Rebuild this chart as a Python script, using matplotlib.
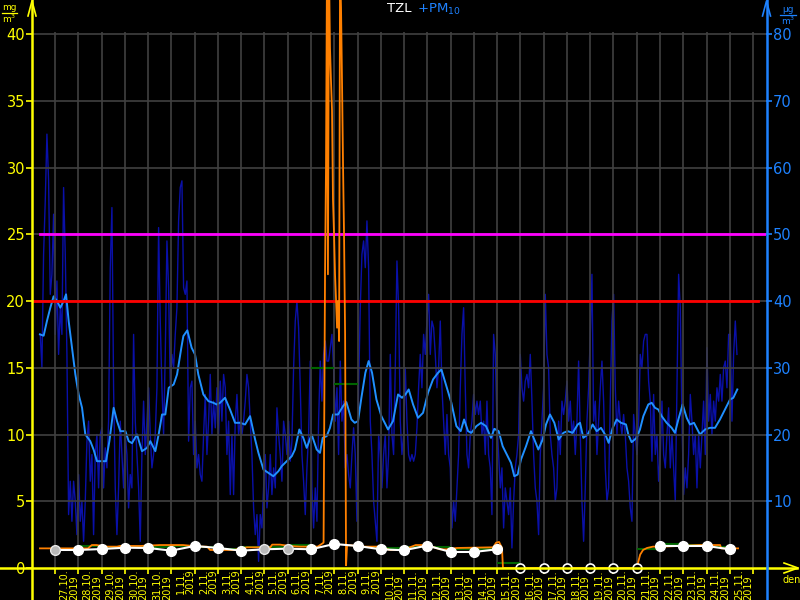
import matplotlib
matplotlib.use('Agg')
import matplotlib.pyplot as plt
from matplotlib.lines import Line2D
import numpy as np

# ---------------- data ----------------
day_labels = ['27.10.', '28.10.', '29.10.', '30.10.', '31.10.', '1.11.', '2.11.', '3.11.',
              '4.11.', '5.11.', '6.11.', '7.11.', '8.11.', '9.11.', '10.11.', '11.11.',
              '12.11.', '13.11.', '14.11.', '15.11.', '16.11.', '17.11.', '18.11.', '19.11.',
              '20.11.', '21.11.', '22.11.', '23.11.', '24.11.', '25.11.']
year_label = '2019'

# PM10 raw readings (ug/m3), regular sampling
pm10_start_h = -15.2
pm10_step_h = 1.719
pm10_raw = [
    35, 30, 47, 55, 65, 58, 41, 44, 53, 35, 43, 32, 39, 35, 57, 47, 32, 8, 13, 7, 13, 10, 5, 14, 7,
    10, 4, 10, 19, 22, 13, 17, 5, 17, 20, 12, 20, 21, 12, 18, 15, 22, 45, 54, 27, 12, 5, 12, 22, 17,
    12, 20, 17, 9, 14, 12, 35, 22, 17, 12, 4, 17, 25, 17, 22, 27, 20, 15, 17, 20, 27, 51, 37, 27, 20,
    32, 49, 42, 27, 32, 30, 35, 39, 52, 57,
    58, 42, 41, 43, 19, 27, 28, 17, 22, 15, 17, 14, 13, 20, 26, 17, 22, 29, 20, 25, 21, 27, 20, 28, 22,
    29, 27, 17, 22, 11, 20, 11, 22, 26, 20, 22, 20, 22, 25, 29, 27, 22, 17, 9, 5, 8, 1, 8, 6, 12,
    17, 9, 12, 17, 11, 15, 12, 24, 20, 17, 13, 22, 20, 17, 22, 16, 19, 30, 37, 40, 36, 27, 17, 13, 8,
    15, 20, 31, 12, 6, 12, 7, 22, 31, 25, 32, 34, 31, 31,
    33, 35, 30, 22, 27, 17, 31, 22, 25, 15, 17, 14, 12, 17, 21, 17, 7, 27, 39, 47, 49, 45, 52, 45, 22,
    17, 10, 7, 4, 20, 17, 12, 17, 20, 12, 17, 32, 20, 17, 30, 46, 39, 22, 17, 20, 30, 22, 17, 16, 17,
    16, 17, 21, 27, 32, 27, 35, 32, 37, 41, 32, 37, 36, 32, 27, 30, 37, 27, 22, 17, 23, 17, 15, 6, 10,
    7, 12, 17, 27, 35, 39, 27, 17, 15, 20, 22, 26, 23, 25,
    23, 25, 20, 22, 17, 25, 17, 15, 8, 35, 32, 22, 17, 12, 15, 6, 12, 10, 8, 12, 3, 10, 15, 17, 20,
    32, 27, 25, 28, 29, 27, 32, 25, 17, 12, 10, 5, 17, 22, 27, 41, 32, 30, 20, 17, 15, 10, 12, 22, 17,
    25, 23, 25, 28, 22, 25, 20, 22, 17, 22, 31, 20, 10, 4, 12, 22, 27, 35, 44, 22, 25, 17, 22, 27, 31,
    25, 15, 10, 12, 25, 37, 41, 27, 20, 25, 22, 20, 23, 20,
    15, 13, 9, 7, 23, 20, 17, 22, 32, 30, 34, 35, 35, 28, 25, 16, 26, 17, 20, 13, 17, 25, 17, 15, 20,
    24, 15, 20, 15, 10, 27, 44, 39, 22, 11, 15, 12, 17, 26, 22, 17, 20, 12, 20, 15, 20, 25, 17, 33, 22,
    26, 20, 25, 22, 27, 25, 29, 25, 30, 31, 27, 35, 35, 22, 32, 37, 32]

# PM10 moving average (ug/m3)
pm10_avg_h = [
    -15.5, -11.7, -8.3, -4.8, -1.4, 2.1, 5.5, 8.9, 11.4, 14.1, 17.5, 21.0, 24.4, 27.9, 31.3, 36.4,
    39.9, 43.3, 48.5, 52.6, 56.1, 60.5, 64.0, 67.4, 72.6, 76.0, 79.4, 84.6, 89.7, 94.9, 98.3, 103.5,
    106.9, 110.4, 113.8, 117.3, 122.4, 125.9, 130.3,
    132.4, 136.5, 140.9, 144.4, 147.8, 153.0, 158.2, 163.3, 166.8, 170.2, 175.4, 180.5, 185.7, 190.9,
    196.0, 201.2, 206.4, 209.8, 215.0, 220.2, 225.2, 230.4, 233.8, 239.0, 244.2, 247.5, 252.0, 256.1,
    259.6, 264.7, 269.9, 273.3, 276.1, 280.2, 283.6,
    286.8, 291.9, 297.1, 300.5, 305.7, 309.1, 312.5, 316.0, 320.1, 323.5, 327.0, 331.5, 336.6, 340.0,
    343.5, 348.6, 353.8, 357.9, 361.4, 364.8, 369.3, 374.4, 379.6, 384.7, 389.9, 395.1, 398.5, 403.6,
    408.8, 414.0, 418.4, 421.9, 426.0, 429.4, 434.6,
    439.4, 444.5, 449.7, 453.1, 457.6, 461.7, 466.9, 470.3, 473.7, 477.2, 480.6, 485.8, 490.9, 494.4,
    498.5, 503.0, 506.4, 510.5, 515.0, 519.5, 524.3, 528.7, 533.9, 539.1, 541.5, 544.9, 549.4, 554.5,
    558.7, 563.1, 568.3, 571.0, 575.2, 579.3, 583.8, 588.9,
    591.3, 594.7, 599.9, 603.3, 606.8, 611.9, 615.4, 618.8, 622.2, 625.7, 630.8, 636.0, 639.4, 642.9,
    647.3, 651.5, 654.9, 659.0, 665.2, 670.4, 675.5, 680.7, 685.8, 691.0, 696.2, 699.6, 703.7]
pm10_avg = [
    35, 34.8, 37, 39, 40.7, 40, 39, 40, 41, 37, 33, 29, 26, 24, 20, 19, 17.7, 16, 16, 16, 19, 24, 22,
    20.5, 20.5, 19, 18.7, 20, 17.5, 18, 19, 17.5, 20, 23, 23, 27, 27.5, 29, 33,
    34.75, 35.6, 33, 32, 29, 26, 25, 24.75, 24.5, 24.75, 25.5, 23.75, 21.75, 21.75, 21.5, 22.75, 19.25,
    17.25, 14.75, 14.25, 13.75, 14.5, 15.25, 16, 16.75, 17.75, 20.75, 19.5, 18, 20, 17.75, 17.25, 19.5,
    19.75, 21,
    23, 23, 24.25, 24.85, 22.25, 21.75, 22, 25.5, 29.25, 31, 29.25, 25.25, 22.75, 21.75, 20.75, 22, 26,
    25.5, 26, 26.75, 24.5, 22.5, 23.25, 26.25, 28.25, 29.25, 29.75, 27.25, 24.75, 21.25, 20.5, 22.25,
    20.5, 20.25, 21.25,
    21.75, 21.25, 19.5, 20.85, 20.5, 18.25, 16.75, 15.75, 13.75, 14, 16.25, 18.25, 20.5, 19.25, 17.75,
    19.25, 21.5, 23, 21.75, 19.25, 20.25, 20.5, 20.25, 21.5, 21.75, 19.5, 20, 21.5, 20.5, 21, 19.75,
    18.75, 21, 22.25, 21.75, 21.5,
    20, 18.85, 19.5, 20.75, 22.75, 24.5, 24.75, 24, 23.75, 22.75, 21.75, 21, 20.25, 22.25, 24.5, 22.5,
    21.5, 21.75, 20, 20.75, 21, 21, 22.25, 23.75, 25.25, 25.5, 26.75]

# TZL (mg/m3)
tzl_h = [-15.5, 0, 23.7, 34, 38, 43, 52, 64, 67, 88, 108, 132, 150, 157, 160, 184, 198, 222, 224,
         232, 242, 253, 271, 275, 277,
         278.5, 279.5, 280.5, 281.5, 282.6, 283.6, 284.6, 285.7, 286.7, 287.8, 288.8, 289.9, 290.9,
         291.9, 293.0, 294.0, 295.0, 296.1, 297.1, 298.1, 299.2, 300.2, 301.2,
         306, 312.5, 325, 335, 345.5, 359, 372, 383.7, 397, 404, 414.6, 452, 455, 458, 461, 462,
         600.3, 601, 603.5, 606.5, 610.6, 616.8, 627, 665, 686, 687, 704.5]
tzl = [1.47, 1.47, 1.47, 1.47, 1.72, 1.72, 1.6, 1.6, 1.65, 1.65, 1.72, 1.72, 1.6, 1.6, 1.35, 1.35,
       1.55, 1.55, 1.75, 1.75, 1.65, 1.6, 1.6, 1.8, 1.9,
       22, 30, 45, 22, 45, 39, 36.6, 34.3, 27.6, 25, 22, 20, 18, 20, 17, 45, 42, 36, 30, 25, 17.5,
       0.2, 1.7,
       1.7, 1.6, 1.6, 1.6, 1.35, 1.35, 1.72, 1.72, 1.4, 1.4, 1.5, 1.55, 1.9, 1.95, 1.5, 0.0,
       0.0, 0.3, 1.0, 1.35, 1.5, 1.6, 1.6, 1.72, 1.72, 1.47, 1.47]

# TZL daily mean (step per day)
tzl_day_mean = [1.42, 1.65, 1.6, 1.6, 1.6, 1.65, 1.6, 1.4, 1.55, 1.6, 1.7, 15.0, 13.8, 1.55, 1.5,
                1.55, 1.6, 1.45, 1.45, 0.4, 0, 0, 0, 0, 0, 1.4, 1.8, 1.75, 1.55]

# TZL daily value markers
tzl_daily = [1.35, 1.35, 1.42, 1.52, 1.5, 1.3, 1.65, 1.5, 1.3, 1.4, 1.45, 1.4, 1.8, 1.65, 1.4,
             1.33, 1.68, 1.2, 1.2, 1.4, 0, 0, 0, 0, 0, 0, 1.65, 1.65, 1.65, 1.4]
tzl_daily_status = ['p', 'o', 'o', 'o', 'o', 'o', 'o', 'o', 'o', 'p', 'p', 'o', 'o', 'o', 'o',
                    'o', 'o', 'o', 'o', 'o', 'n', 'n', 'n', 'n', 'n', 'n', 'o', 'o', 'o', 'o']

limit_tzl = 25
limit_pm10 = 40

# ---------------- figure ----------------
W, H = 800, 600
fig = plt.figure(figsize=(8, 6), dpi=100, facecolor='black')
L, R, B, T = 32, 766, 568, 32
ax = fig.add_axes([L / W, 1 - B / H, (R - L) / W, (B - T) / H])
ax.set_facecolor('black')
ax2 = ax.twinx()

YEL = '#ffff00'
BLU = '#1e82ff'
GRID = '#404040'

ax.set_xlim(-0.988, 30.554)
ax.set_ylim(0, 40.15)
ax2.set_ylim(0, 80.3)

for s in list(ax.spines.values()) + list(ax2.spines.values()):
    s.set_visible(False)

# grid
for v in range(5, 41, 5):
    ax.axhline(v, color=GRID, lw=1.2, zorder=0)
for d in range(0, 31):
    ax.axvline(d, color=GRID, lw=1.2, zorder=0)

# ticks
ax.set_yticks(range(0, 41, 5))
ax.tick_params(axis='y', colors=YEL, length=4, width=1.2, labelsize=10.5, pad=1)
ax2.set_yticks(range(10, 81, 10))
ax2.tick_params(axis='y', colors=BLU, length=4, width=1.2, labelsize=10.5, pad=1)
ax.set_xticks(range(0, 31))
ax.set_xticks([d + 0.6 for d in range(len(day_labels))], minor=True)
ax.set_xticklabels([])
ax.set_xticklabels([f'{lab}\n{year_label}' for lab in day_labels], minor=True,
                   rotation=90, fontsize=7, color=YEL, va='top', ha='center',
                   multialignment='left', linespacing=0.95)
ax.tick_params(axis='x', which='major', colors=YEL, length=4, width=1.2)
ax.tick_params(axis='x', which='minor', length=0, pad=1, colors=YEL)

# PM10 series on right axis
days_raw = [(pm10_start_h + i * pm10_step_h) / 24 for i in range(len(pm10_raw))]
ax2.plot(days_raw, pm10_raw, color='#0a10a8', lw=1.0, zorder=2)
ax2.plot([h / 24 for h in pm10_avg_h], pm10_avg, color='#2090ff', lw=1.4, zorder=3)

# limits
ax.axhline(limit_pm10 / 2, xmin=0, xmax=0.989, color='#ff0000', lw=2, zorder=4)
ax.axhline(limit_tzl, xmin=0.011, xmax=1, color='#ff00ff', lw=2, zorder=4)

# TZL
ax.set_zorder(ax2.get_zorder() + 1)
ax.patch.set_visible(False)
ax2.set_facecolor('black')
ax.hlines(tzl_day_mean, np.arange(len(tzl_day_mean)), np.arange(len(tzl_day_mean)) + 1,
          color='#006400', lw=1.5, zorder=5)
ax.plot([h / 24 for h in tzl_h], tzl, color='#ff8000', lw=1.3, zorder=6, clip_on=False)

days_d = np.arange(len(tzl_daily))
seg1 = [i for i in days_d if i <= 19]
seg2 = [i for i in days_d if i >= 26]
for seg in (seg1, seg2):
    ax.plot(seg, [tzl_daily[i] for i in seg], color='white', lw=1.5, zorder=7)
for i in days_d:
    st = tzl_daily_status[i]
    if st == 'o':
        ax.plot(i, tzl_daily[i], 'o', ms=7, color='white', mec='white', zorder=8, clip_on=False)
    elif st == 'p':
        ax.plot(i, tzl_daily[i], 'o', ms=7, color='#b8b8b8', mec='#e8e8e8', zorder=8, clip_on=False)
    else:
        ax.plot(i, tzl_daily[i], 'o', ms=6.5, mfc='black', mec='white', mew=1.2, zorder=8,
                clip_on=False)

# axis lines, arrows (figure pixel coordinates)
def fl(xs, ys, c, lw=1.5):
    fig.add_artist(Line2D([x / W for x in xs], [1 - y / H for y in ys], color=c, lw=lw))

fl([32, 32], [0, 600], YEL, 1.8)
fl([28, 32, 36], [16, 1, 16], YEL, 1.2)
fl([0, 797], [568, 568], YEL, 1.8)
fl([784, 798, 784], [563, 568, 573], YEL, 1.2)
fl([766.5, 766.5], [0, 600], BLU, 1.8)
fl([762.5, 766.5, 770.5], [16, 1, 16], BLU, 1.2)

# units
fig.text(9.5 / W, 1 - 7 / H, 'mg', color=YEL, fontsize=6.5, ha='center', va='center')
fl([2, 17], [13, 13], YEL, 0.9)
fig.text(9.5 / W, 1 - 19 / H, 'm$^3$', color=YEL, fontsize=6.5, ha='center', va='center')
fig.text(788 / W, 1 - 9 / H, 'µg', color=BLU, fontsize=6.5, ha='center', va='center')
fl([780, 796], [15, 15], BLU, 0.9)
fig.text(788 / W, 1 - 21 / H, 'm$^3$', color=BLU, fontsize=6.5, ha='center', va='center')
fig.text(792 / W, 1 - 580 / H, 'den', color=YEL, fontsize=7, ha='center', va='center')

# title
fig.text(411 / W, 1 - 9 / H, 'TZL', color='white', fontsize=9.5, ha='right', va='center')
fig.text(417 / W, 1 - 9 / H, '+PM$_{10}$', color=BLU, fontsize=9.5, ha='left', va='center')

fig.savefig('out.png', dpi=100, facecolor='black')
